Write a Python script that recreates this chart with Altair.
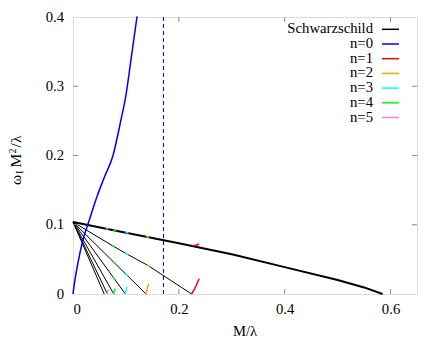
import altair as alt
import pandas as pd

FONT = "'Liberation Serif', 'Times New Roman', Times, serif"
FS = 14.7

# ---- data ----
series_names = ["Schwarzschild", "n=0", "n=1", "n=2", "n=3", "n=4", "n=5"]
series_colors = ["#000000", "#0000ff", "#ff0000", "#ffa500", "#00ffff", "#00ff00", "#ee82ee"]

schw_x = [0.0, 0.1, 0.2, 0.3, 0.4, 0.5, 0.55, 0.585]
schw_y = [0.104, 0.0886, 0.0733, 0.0575, 0.0388, 0.0202, 0.0095, 0.0]

n0_x = [0.0, 0.002, 0.0087, 0.0189, 0.0305, 0.0454, 0.06, 0.0756, 0.0907, 0.1, 0.1096, 0.121]
n0_y = [0.0, 0.012, 0.0423, 0.0784, 0.106, 0.1409, 0.170, 0.2001, 0.2517, 0.287, 0.3383, 0.4009]

# thin black lines from the Schwarzschild value down to the axis
fan_top = 0.104
fan_ends = [0.059, 0.065, 0.077, 0.099, 0.138]
fan1_x = [0.0, 0.075, 0.1, 0.142, 0.224]
fan1_y = [0.104, 0.0695, 0.0585, 0.041, 0.0]

dashed_x = [0.171]

# short coloured pieces of the overtone branches
pieces = [
    ("n=5", [0.062, 0.067], [0.0945, 0.0937]),
    ("n=4", [0.076, 0.082], [0.0924, 0.0915]),
    ("n=3", [0.099, 0.105], [0.0888, 0.0879]),
    ("n=2", [0.138, 0.144], [0.0829, 0.0820]),
    ("n=1", [0.226, 0.232, 0.238], [0.0695, 0.0703, 0.0722]),
    ("n=4", [0.074, 0.079], [0.0701, 0.0677]),
    ("n=3", [0.099, 0.104], [0.0589, 0.0567]),
    ("n=2", [0.140, 0.145], [0.0420, 0.0397]),
    ("n=4", [0.076, 0.080], [0.0467, 0.0437]),
    ("n=3", [0.099, 0.103], [0.0294, 0.0263]),
    ("n=4", [0.076, 0.079], [0.0242, 0.0210]),
    ("n=5", [0.064, 0.065, 0.067], [0.0, 0.003, 0.006]),
    ("n=4", [0.077, 0.078, 0.080], [0.0, 0.004, 0.008]),
    ("n=3", [0.099, 0.100, 0.102], [0.0, 0.005, 0.010]),
    ("n=2", [0.138, 0.140, 0.143], [0.0, 0.007, 0.015]),
    ("n=1", [0.224, 0.229, 0.2335, 0.2366, 0.2385], [0.0, 0.0062, 0.0134, 0.0192, 0.022]),
]

x_ticks = [0.2, 0.4, 0.6]
y_ticks = [0.1, 0.2, 0.3]

XMAX, YMAX = 0.65, 0.4
W, H = 344, 277

xs = alt.Scale(domain=[0, XMAX], nice=False, zero=False)
ys = alt.Scale(domain=[0, YMAX], nice=False, zero=False)
cscale = alt.Scale(domain=series_names, range=series_colors)

xaxis = alt.Axis(values=[0, 0.2, 0.4, 0.6], ticks=False, domain=False, grid=False,
                 labelFont=FONT, labelFontSize=FS, labelColor="black", labelPadding=7,
                 labelExpr="datum.value == 0 ? '0' : format(datum.value, '.1f')", title=None)
yaxis = alt.Axis(values=[0, 0.1, 0.2, 0.3, 0.4], ticks=False, domain=False, grid=False,
                 labelFont=FONT, labelFontSize=FS, labelColor="black", labelPadding=9.5,
                 labelExpr="datum.value == 0 ? '0' : format(datum.value, '.1f')", title=None)

def X(f="x"):
    return alt.X(f"{f}:Q", scale=xs, axis=xaxis)

def Y(f="y"):
    return alt.Y(f"{f}:Q", scale=ys, axis=yaxis)

layers = []

# fan lines
fan_rows = []
for i, xe in enumerate(fan_ends):
    fan_rows += [{"id": i, "o": 0, "x": 0.0, "y": fan_top}, {"id": i, "o": 1, "x": xe, "y": 0.0}]
for j, (a, b) in enumerate(zip(fan1_x, fan1_y)):
    fan_rows.append({"id": 99, "o": j, "x": a, "y": b})
layers.append(alt.Chart(pd.DataFrame(fan_rows)).mark_line(color="black", strokeWidth=1).encode(
    x=X(), y=Y(), detail="id:N", order="o:Q"))

# Schwarzschild thick line
schw_df = pd.DataFrame({"x": schw_x, "y": schw_y, "o": range(len(schw_x))})
layers.append(alt.Chart(schw_df).mark_line(color="black", strokeWidth=2).encode(
    x=X(), y=Y(), order="o:Q"))

# dashed vertical
layers.append(alt.Chart(pd.DataFrame({"x": dashed_x})).mark_rule(
    color="#0000ff", strokeWidth=1, strokeDash=[4, 3]).encode(x=X(), y=alt.value(0), y2=alt.value(H)))

# n=0 curve
n0_df = pd.DataFrame({"x": n0_x, "y": n0_y, "o": range(len(n0_x))})
layers.append(alt.Chart(n0_df).mark_line(color="#0000ff", strokeWidth=1.5, interpolate="monotone").encode(
    x=X(), y=Y(), order="o:Q"))

# coloured pieces
prow = []
for k, (s, px, py) in enumerate(pieces):
    for j, (a, b) in enumerate(zip(px, py)):
        prow.append({"id": k, "o": j, "s": s, "x": a, "y": b})
layers.append(alt.Chart(pd.DataFrame(prow)).mark_line(strokeWidth=1.5).encode(
    x=X(), y=Y(), detail="id:N", order="o:Q",
    color=alt.Color("s:N", scale=cscale, legend=None)))

# inward ticks
tx = pd.DataFrame({"x": x_ticks})
ty = pd.DataFrame({"y": y_ticks})
tick_col = "#8a8a8a"
layers.append(alt.Chart(tx).mark_rule(color=tick_col, strokeWidth=1).encode(x=X(), y=alt.value(H), y2=alt.value(H - 5)))
layers.append(alt.Chart(tx).mark_rule(color=tick_col, strokeWidth=1).encode(x=X(), y=alt.value(0), y2=alt.value(5)))
layers.append(alt.Chart(ty).mark_rule(color=tick_col, strokeWidth=1).encode(y=Y(), x=alt.value(0), x2=alt.value(5)))
layers.append(alt.Chart(ty).mark_rule(color=tick_col, strokeWidth=1).encode(y=Y(), x=alt.value(W), x2=alt.value(W - 5)))

# legend (manual, symbol to the right of the label)
one = pd.DataFrame({"a": [0]})
for i, (name, col) in enumerate(zip(series_names, series_colors)):
    yy = 12.3 + 14.7 * i
    layers.append(alt.Chart(one).mark_text(align="right", baseline="middle", font=FONT, fontSize=FS,
                                           color="black", text=name).encode(
        x=alt.value(300), y=alt.value(yy)))
    layers.append(alt.Chart(one).mark_rule(color=col, strokeWidth=1.5).encode(
        x=alt.value(309), x2=alt.value(326), y=alt.value(yy)))

# axis titles
layers.append(alt.Chart(one).mark_text(align="center", baseline="middle", font=FONT, fontSize=FS,
                                       color="black", text="M/λ").encode(x=alt.value(172), y=alt.value(314.5)))
TS = 15.5
ytitle = [("ω", TS, -57.5, 168), ("I", 11, -53.5, 157),
          ("M", TS, -57.5, 150.5), ("2", 10, -60, 136.5),
          ("/", TS, -57.5, 130.5), ("λ", TS, -57.5, 126)]
for t, fs, xx, yy in ytitle:
    layers.append(alt.Chart(one).mark_text(align="left", baseline="middle", angle=270, font=FONT,
                                           fontSize=fs, color="black", text=t).encode(
        x=alt.value(xx), y=alt.value(yy)))

chart = alt.layer(*layers).properties(
    width=W, height=H,
    autosize=alt.AutoSizeParams(type="none"),
    padding={"left": 65, "top": 9, "right": 19, "bottom": 48},
).configure_view(stroke="black", strokeWidth=1).configure(background="white")

chart.save("out.html", embed_options={"renderer": "svg", "actions": False})
